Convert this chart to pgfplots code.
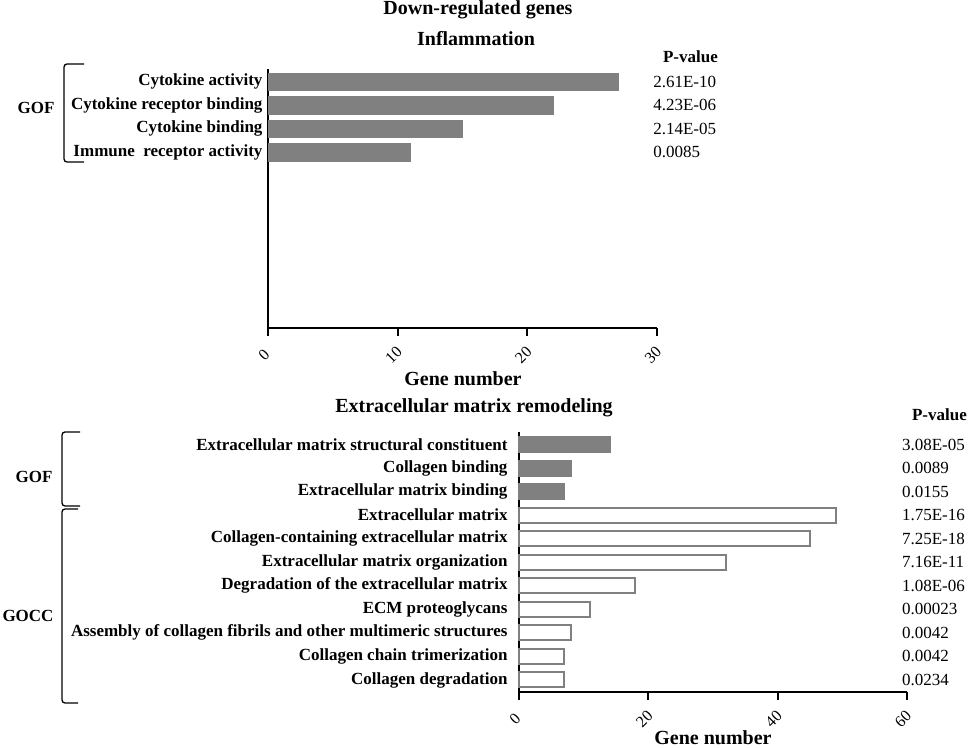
\documentclass[border=0pt]{standalone}
\usepackage{pgfplots}
\pgfplotsset{compat=1.18}
\usepackage{pgfplotstable}
\usepackage{fontspec}
\setmainfont{Liberation Serif}

\newcommand\lab{\fontsize{17bp}{20bp}\selectfont\bfseries}
\newcommand\ttl{\fontsize{20bp}{24bp}\selectfont\bfseries}
\newcommand\pv{\fontsize{17bp}{20bp}\selectfont}

% rows run downward: first category at y=0
\pgfplotstableread{
y n
0 27
-1 22
-2 15
-3 11
}\inflam

\pgfplotstableread{
y n
0 14
-1 8
-2 7
}\gof

\pgfplotstableread{
y n
-3 49
-4 45
-5 32
-6 18
-7 11
-8 8
-9 7
-10 7
}\gocc

\pgfplotsset{
  gobar/.style={
    scale only axis, anchor=south west, clip=false,
    xbar, bar shift=0pt,
    axis x line*=bottom, axis y line*=left,
    axis line style={line width=2bp, -},
    tick align=outside, major tick length=8bp,
    every tick/.style={line width=2bp, black},
    ytick style={draw=none},
    /pgf/number format/assume math mode=true,
    xticklabel style={font=\fontsize{16bp}{18bp}\selectfont, xshift=-4bp, yshift=-19bp, rotate=45, anchor=center},
    yticklabel style={font=\lab},
  },
}

\begin{document}
\begin{tikzpicture}
\useasboundingbox (0,0) rectangle (969bp,748bp);

% top: inflammation
\begin{axis}[gobar,
  at={(268bp,420bp)}, width=389bp, height=259bp,
  xmin=0, xmax=30, ymin=-10.47, ymax=0.55,
  xtick={0,10,20,30},
  ytick={-3,-2,-1,0},
  yticklabels={Immune\ \ receptor activity, Cytokine binding, Cytokine receptor binding, Cytokine activity},
  yticklabel style={xshift=6bp},
  bar width=17.5bp,
]
\addplot[fill=gray, draw=gray, line width=0.5bp] table[x=n, y=y] {\inflam};
\node[anchor=west, inner sep=0, font=\pv] at (axis cs:29.7,0) {2.61E-10};
\node[anchor=west, inner sep=0, font=\pv] at (axis cs:29.7,-1) {4.23E-06};
\node[anchor=west, inner sep=0, font=\pv] at (axis cs:29.7,-2) {2.14E-05};
\node[anchor=west, inner sep=0, font=\pv] at (axis cs:29.7,-3) {0.0085};
\end{axis}

% bottom: extracellular matrix remodeling
\begin{axis}[gobar,
  at={(519bp,56bp)}, width=388bp, height=260bp,
  xmin=0, xmax=60, ymin=-10.51, ymax=0.53,
  xtick={0,20,40,60},
  ytick={-10,-9,...,0},
  yticklabels={Collagen degradation, Collagen chain trimerization,
    Assembly of collagen fibrils and other multimeric structures,
    ECM proteoglycans, Degradation of the extracellular matrix,
    Extracellular matrix organization, Collagen-containing extracellular matrix,
    Extracellular matrix, Extracellular matrix binding, Collagen binding,
    Extracellular matrix structural constituent},
  bar width=15bp,
]
\addplot[fill=gray, draw=gray, line width=2bp] table[x=n, y=y] {\gof};
\addplot[fill=white, draw=gray, line width=2bp] table[x=n, y=y] {\gocc};
\node[anchor=west, inner sep=0, font=\pv] at (axis cs:59.2,0) {3.08E-05};
\node[anchor=west, inner sep=0, font=\pv] at (axis cs:59.2,-1) {0.0089};
\node[anchor=west, inner sep=0, font=\pv] at (axis cs:59.2,-2) {0.0155};
\node[anchor=west, inner sep=0, font=\pv] at (axis cs:59.2,-3) {1.75E-16};
\node[anchor=west, inner sep=0, font=\pv] at (axis cs:59.2,-4) {7.25E-18};
\node[anchor=west, inner sep=0, font=\pv] at (axis cs:59.2,-5) {7.16E-11};
\node[anchor=west, inner sep=0, font=\pv] at (axis cs:59.2,-6) {1.08E-06};
\node[anchor=west, inner sep=0, font=\pv] at (axis cs:59.2,-7) {0.00023};
\node[anchor=west, inner sep=0, font=\pv] at (axis cs:59.2,-8) {0.0042};
\node[anchor=west, inner sep=0, font=\pv] at (axis cs:59.2,-9) {0.0042};
\node[anchor=west, inner sep=0, font=\pv] at (axis cs:59.2,-10) {0.0234};
\end{axis}

% titles and axis labels
\node[anchor=base, font=\ttl] at (478bp,733bp) {Down-regulated genes};
\node[anchor=base, font=\ttl] at (476bp,702bp) {Inflammation};
\node[anchor=base, font=\ttl] at (463bp,362bp) {Gene number};
\node[anchor=base, font=\ttl] at (474bp,335bp) {Extracellular matrix remodeling};
\node[anchor=base, font=\ttl] at (713bp,4bp) {Gene number};
\node[anchor=base east, font=\lab, inner sep=0] at (718bp,685bp) {P-value};
\node[anchor=base east, font=\lab, inner sep=0] at (967bp,327bp) {P-value};

% brackets
\draw[line width=1.3bp, rounded corners=3bp] (84bp,684bp) -- (64bp,684bp) -- (64bp,586bp) -- (84bp,586bp);
\draw[line width=1.3bp, rounded corners=3bp] (80bp,316bp) -- (62bp,316bp) -- (62bp,242bp) -- (80bp,242bp);
\draw[line width=1.3bp, rounded corners=3bp] (78bp,239bp) -- (62bp,239bp) -- (62bp,45bp) -- (78bp,45bp);
\node[font=\lab] at (36bp,640bp) {GOF};
\node[font=\lab] at (34bp,271bp) {GOF};
\node[font=\lab] at (28bp,132bp) {GOCC};
\end{tikzpicture}
\end{document}
